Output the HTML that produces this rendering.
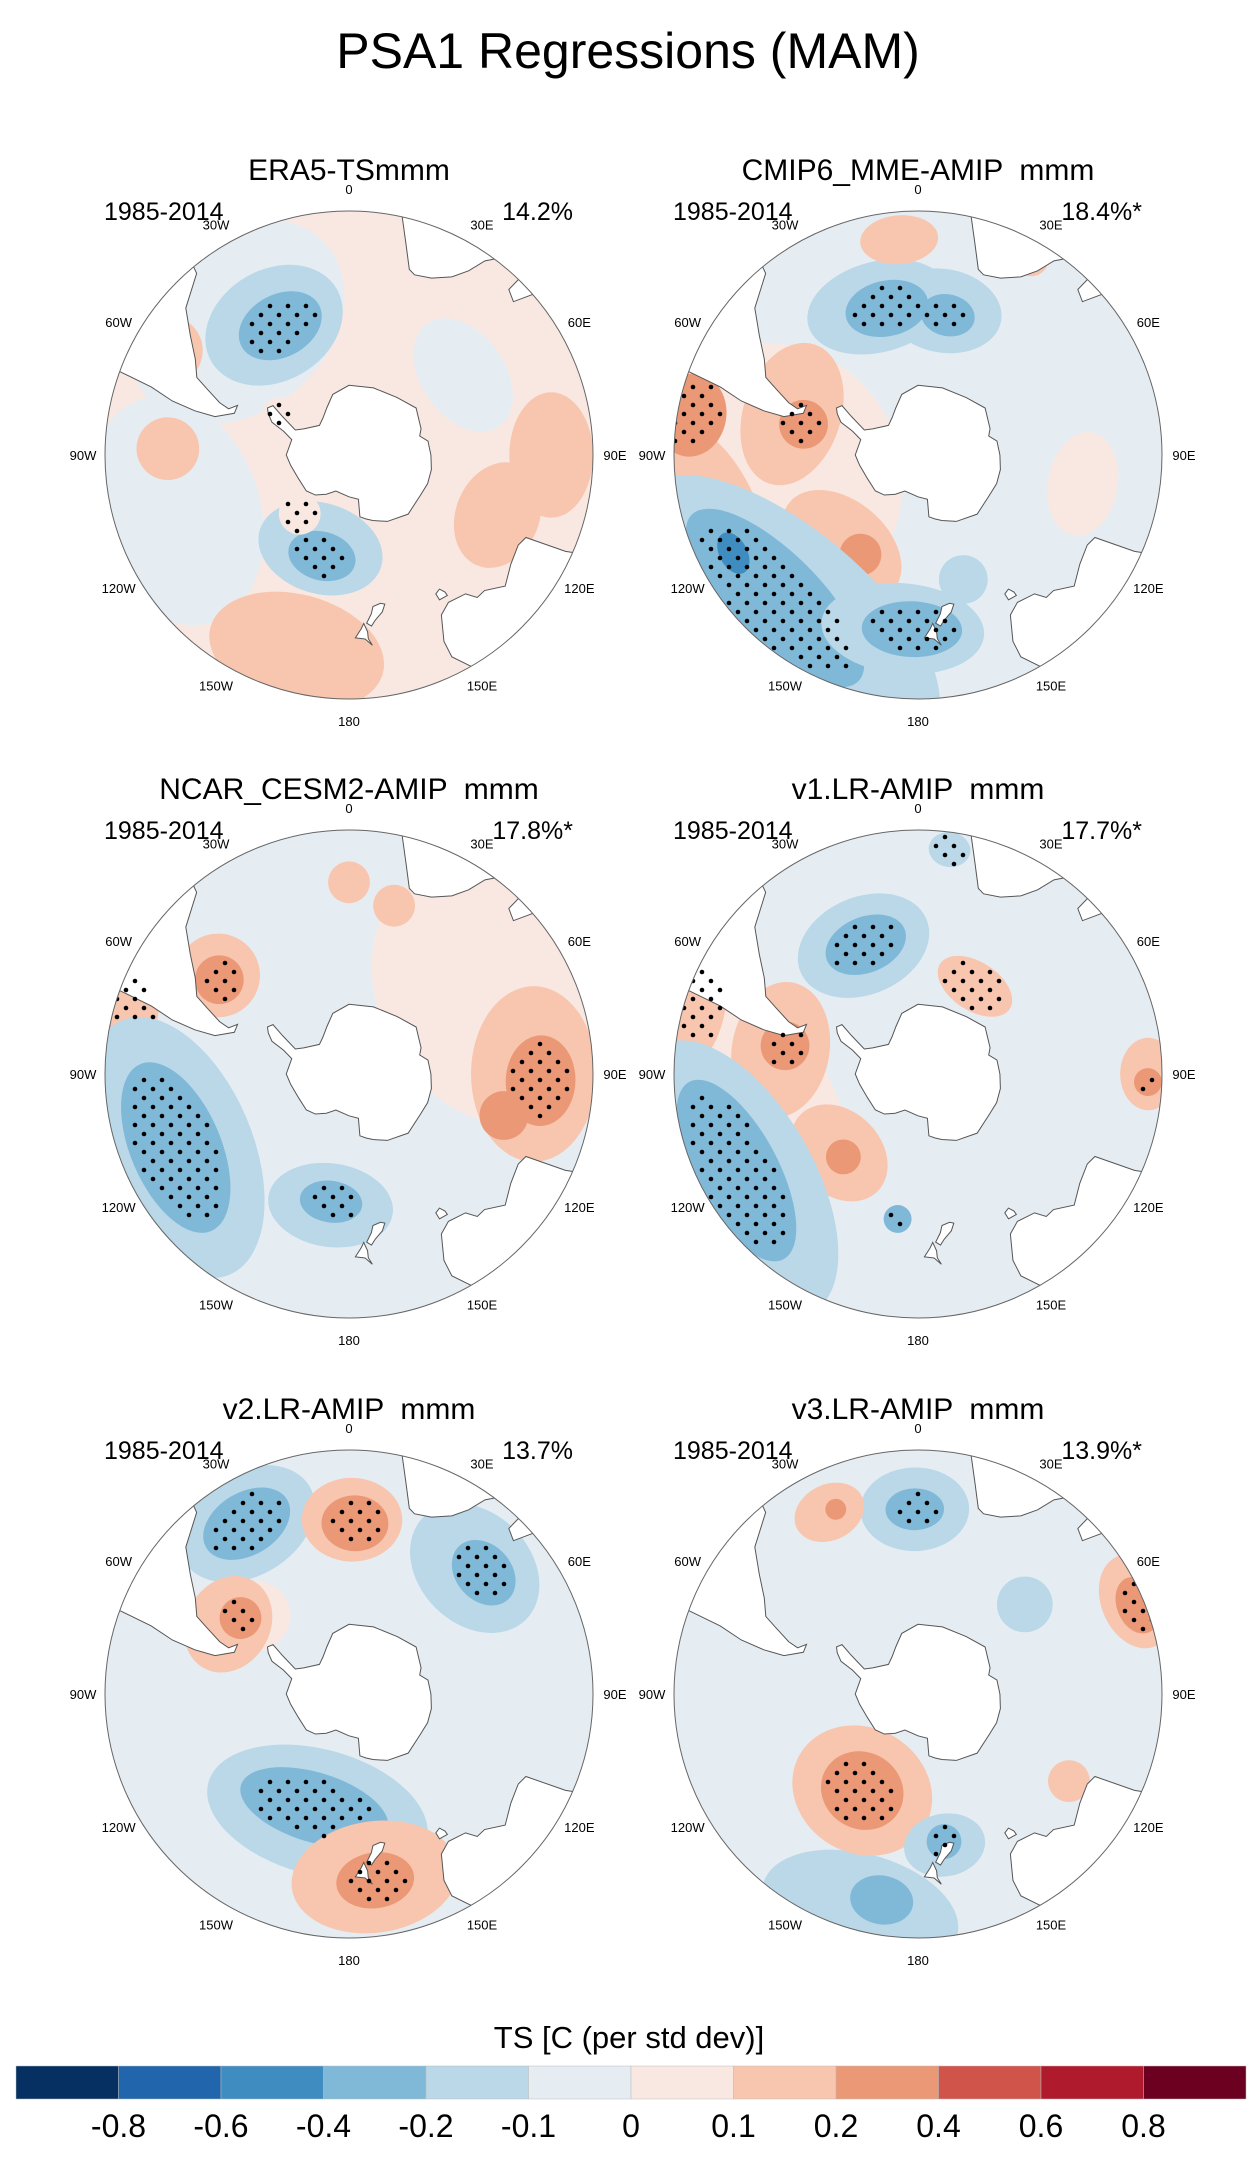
<!DOCTYPE html>
<html><head><meta charset="utf-8"><style>
html,body{margin:0;padding:0;background:#fff;}
body{width:1258px;height:2167px;overflow:hidden;font-family:"Liberation Sans",sans-serif;}
svg text{font-family:"Liberation Sans",sans-serif;white-space:pre;}
</style></head><body>
<svg id="fig" width="1258" height="2167" viewBox="0 0 1258 2167" xmlns="http://www.w3.org/2000/svg">
<text x="628" y="68" font-size="50" text-anchor="middle">PSA1 Regressions (MAM)</text>
<g id="panels"></g>
<g id="cbar"></g>
</svg>
<script>
// ---- colour scale data ----
const levelColors = ["#053061","#2166ac","#3f8cc0","#80b9d8","#bad8e8","#e5edf3","#f9e8e2","#f8c6ae","#eb9877","#d1544a","#af1a2d","#6c0020"];
const tickLabels = ["-0.8","-0.6","-0.4","-0.2","-0.1","0","0.1","0.2","0.4","0.6","0.8"];
const lonLabels = ["0","30E","60E","90E","120E","150E","180","150W","120W","90W","60W","30W"];
const lonTicks = [0,30,60,90,120,150,180,-150,-120,-90,-60,-30];
// panels
const panelTitles = ["ERA5-TSmmm","CMIP6_MME-AMIP  mmm","NCAR_CESM2-AMIP  mmm","v1.LR-AMIP  mmm","v2.LR-AMIP  mmm","v3.LR-AMIP  mmm"];
const panelPct = ["14.2%","18.4%*","17.8%*","17.7%*","13.7%","13.9%*"];
const panelBase = [6,5,5,5,5,5];
// blobs: [lon, lat, radiusDeg, level, stipple, stretch(along-arc)]
const blobs1 = [[-40,-40,26,5,0,1.3],[-108,-38,24,5,0,1.4],[-30,-47,16,4,0,1.3],[-28,-48,9,3,1,1.4],[55,-50,12,5,0,1.5],
 [-88,-38,9,7,0,1],[-60,-30,10,7,0,1],[-165,-32,16,7,0,1.6],[-175,-26,10,7,0,1.2],[90,-32,12,7,0,1.5],[112,-44,12,7,0,1.3],
 [-163,-62,13,4,0,1.4],[-165,-60,7,3,1,1.4],[-140,-68,6,6,1,1],[-60,-67,5,6,1,1]];
const blobs2 = [[-100,-45,40,6,0,1],[-110,-28,14,7,0,2.2],[-80,-24,10,8,1,1.2],[-72,-52,14,7,0,1.5],[-75,-56,7,8,1,1],[-140,-56,13,7,0,1.5],[-150,-57,6,8,0,1],
 [-140,-33,22,4,0,2.4],[-135,-32,13,3,1,2.6],[-118,-30,4,2,0,1.6],[-175,-40,13,4,0,1.8],[-178,-40,8,3,1,1.8],[160,-52,7,4,0,1],
 [-15,-46,13,4,0,1.6],[10,-48,12,4,0,1.4],[-12,-47,8,3,1,1.5],[12,-49,6,3,1,1.3],[100,-42,10,6,0,1.5],[-5,-28,7,7,0,1.6],[30,-25,5,7,0,1]];
const blobs3 = [[60,-45,30,6,0,1.3],[-160,-32,18,5,0,1.8],[-27,-30,14,5,0,1.3],[90,-37,18,7,0,1.4],[92,-35,10,8,1,1.3],[105,-44,7,8,0,1],[-53,-43,12,7,0,1],[-54,-44,7,8,1,1],[-76,-24,9,7,1,1.6],
 [-113,-36,22,4,0,1.8],[-113,-36,13,3,1,2],[-172,-52,12,4,0,1.5],[-172,-53,6,3,1,1.5],[15,-40,6,7,0,1],[0,-35,6,7,0,1]];
const blobs4 = [[-110,-40,26,6,0,1.6],[-160,-30,22,5,0,1.6],[-75,-22,10,7,1,1.8],[-80,-50,14,7,0,1.4],[-78,-51,7,8,1,1],[-135,-58,12,7,0,1.3],[-138,-58,5,8,0,1],
 [-120,-30,22,4,0,2],[-118,-31,12,3,1,2.4],[-23,-50,14,4,0,1.4],[-22,-50,8,3,1,1.5],[33,-60,7,7,1,1.7],
 [90,-24,8,7,0,1.3],[92,-24,4,8,1,1],[-172,-48,4,3,1,1],[8,-25,5,4,1,1.2]];
const blobs5 = [[-79,-32,14,5,0,1.5],[-50,-55,10,6,0,1],[-31,-33,15,4,0,1.4],[-31,-33,9,3,1,1.5],[1,-40,12,7,0,1.2],[2,-41,8,8,1,1.2],[45,-39,16,4,0,1.3],[48,-38,8,3,1,1.3],
 [-165,-55,18,4,0,1.8],[-163,-56,10,3,1,2.2],[172,-37,16,7,0,1.5],[172,-36,8,8,1,1.4],[-60,-50,12,7,0,1.2],[-55,-52,6,8,1,1]];
const blobs6 = [[-40,-55,10,5,0,1],[50,-50,8,4,0,1],[-165,-26,16,4,0,1.8],[-170,-30,7,3,0,1.3],[-150,-58,18,7,0,1.15],[-150,-58,11,8,1,1.1],[-1,-37,12,4,0,1.3],[-1,-37,6,3,1,1.4],[-26,-32,8,7,0,1.3],[-24,-32,3,8,0,1],
 [170,-46,9,4,0,1.3],[170,-47,5,3,1,1],[67,-22,10,7,0,1.4],[68,-22,6,8,1,1.4],[120,-40,6,7,0,1]];
const panelBlobs = [blobs1,blobs2,blobs3,blobs4,blobs5,blobs6];
// land polygons (lon,lat)
const antarctica = [[-60,-63],[-57,-64],[-60,-68],[-65,-73],[-60,-75],[-45,-78],[-35,-77],[-25,-75],[-15,-72],[0,-70],[20,-69.5],[40,-68.5],[55,-66.5],[70,-68],[75,-69],[80,-67],[90,-66.5],[100,-66],[110,-66],[120,-66.5],[135,-66],[150,-68],[160,-70],[165,-71],[170,-72],[168,-77],[180,-78],[-160,-79],[-150,-77],[-140,-75],[-130,-74],[-115,-74],[-100,-73],[-90,-72],[-75,-73],[-70,-70],[-67,-66],[-63,-64]];
const samerica = [[-38,-12],[-40,-22],[-48,-27],[-53,-33],[-58,-38],[-63,-41],[-65,-45],[-68,-50],[-69,-53],[-66,-55],[-70,-55],[-74,-50],[-74,-44],[-73,-37],[-71,-30],[-70,-20],[-80,-12]];
const africa = [[8,-12],[12,-18],[15,-27],[18,-34],[20,-35],[25,-34],[30,-31],[33,-27],[35,-22],[40,-15],[42,-10]];
const madagascar = [[44,-15],[44,-24],[47,-25.5],[50,-16],[49,-12]];
const australia = [[112,-12],[114,-22],[115,-34],[118,-35],[124,-34],[130,-31.5],[135,-35],[138,-35],[140,-38],[146,-39],[150,-37],[153,-30],[153,-25],[150,-20],[146,-12]];
const tasmania = [[145,-40.8],[148,-41],[148,-43],[146,-43.6],[145,-42]];
const nzNorth = [[173,-35],[175,-37],[178,-37.5],[176,-40],[175,-41.5],[174,-39],[174,-37]];
const nzSouth = [[172.5,-40.5],[174,-41.5],[172,-44],[171,-46],[168,-46.5],[166.5,-46],[168,-44],[171,-42]];
const landPolys = [samerica,africa,madagascar,australia,tasmania,nzNorth,nzSouth];

const NS='http://www.w3.org/2000/svg';
const R=244, EDGE=-20;
const centers=[[349,455],[918,455],[349,1074],[918,1074],[349,1694],[918,1694]];
function el(tag,attrs,parent){const e=document.createElementNS(NS,tag);for(const k in attrs)e.setAttribute(k,attrs[k]);if(parent)parent.appendChild(e);return e;}
function proj(c,lon,lat){const rho=R*(90+lat)/(90+EDGE);const a=lon*Math.PI/180;return [c[0]+rho*Math.sin(a),c[1]-rho*Math.cos(a)];}
function inside(px,py,E){const dx=px-E.x,dy=py-E.y;const u=dx*E.c+dy*E.s,v=-dx*E.s+dy*E.c;return (u*u)/(E.a*E.a)+(v*v)/(E.b*E.b)<=1;}
const degPx=R/(90+EDGE);
const panelsG=document.getElementById('panels');
centers.forEach((c,i)=>{
  const g=el('g',{},panelsG);
  
  
  const t=el('text',{x:c[0],y:c[1]-275,'font-size':30,'text-anchor':'middle'},g);t.textContent=panelTitles[i];
  
  
  const y1=el('text',{x:c[0]-245,y:c[1]-235,'font-size':25},g);y1.textContent='1985-2014';
  
  
  const p=el('text',{x:c[0]+224,y:c[1]-235,'font-size':25,'text-anchor':'end'},g);p.textContent=panelPct[i];
  
  
  const cp=el('clipPath',{id:'clip'+i},g);el('circle',{cx:c[0],cy:c[1],r:R},cp);
  const m=el('g',{'clip-path':'url(#clip'+i+')'},g);
  
  
  el('circle',{cx:c[0],cy:c[1],r:R,fill:levelColors[panelBase[i]]},m);
  const ells=[];
  panelBlobs[i].forEach(b=>{
    const [x,y]=proj(c,b[0],b[1]);const rr=b[2]*degPx;
    const ang=b[0];
    const e=el('ellipse',{cx:x,cy:y,rx:rr*b[5],ry:rr,fill:levelColors[b[3]],transform:`rotate(${ang} ${x} ${y})`},m);
    
    
    const th=ang*Math.PI/180;
    ells.push({x:x,y:y,a:rr*b[5],b:rr,c:Math.cos(th),s:Math.sin(th),lvl:b[3],st:b[4]});
  });
  landPolys.forEach(pl=>{
    const pts=pl.map(q=>proj(c,q[0],q[1]).join(',')).join(' ');
    const lp=el('polygon',{points:pts,fill:'#fff',stroke:'#555','stroke-width':1},m);
    
    
  });
  const ap=el('polygon',{points:antarctica.map(q=>proj(c,q[0],q[1]).join(',')).join(' '),fill:'#fff',stroke:'#555','stroke-width':1},m);
  
  
  // stipple
  ells.forEach((E,ei)=>{
    if(!E.st) return;
    const S={x:E.x,y:E.y,a:E.a*0.85,b:E.b*0.85,c:E.c,s:E.s};
    for(let yy=Math.floor((E.y-E.a)/9)*9;yy<=E.y+E.a;yy+=9){
      const off=((yy/9)%2===0)?0:9;
      for(let xx=Math.floor((E.x-E.a)/18)*18+off;xx<=E.x+E.a;xx+=18){
        if(!inside(xx,yy,S)) continue;
        let covered=false;
        for(let k=ei+1;k<ells.length;k++){ if(ells[k].lvl!==E.lvl && inside(xx,yy,ells[k]) && Math.abs(ells[k].lvl-E.lvl)>1){covered=true;break;} }
        if(covered) continue;
        const s=el('circle',{cx:xx,cy:yy,r:2.3,fill:'#000'},m);
        
        
      }
    }
  });
  const bd=el('circle',{cx:c[0],cy:c[1],r:R,fill:'none',stroke:'#666','stroke-width':1},g);
  
  
  lonTicks.forEach((lon,k)=>{
    const a=lon*Math.PI/180;const rr=R+22;
    const lt=el('text',{x:c[0]+rr*Math.sin(a),y:c[1]-rr*Math.cos(a)+5,'font-size':13,'text-anchor':'middle'},g);
    lt.textContent=lonLabels[k];
    
    
  });
});
// colorbar
const cb=document.getElementById('cbar');
const x0=16,x1=1246,cy0=2066,ch=33,w=(x1-x0)/levelColors.length;
const ct=el('text',{x:629,y:2048,'font-size':31,'text-anchor':'middle'},cb);ct.textContent='TS [C (per std dev)]';


levelColors.forEach((col,k)=>{
  const r=el('rect',{x:x0+k*w,y:cy0,width:w,height:ch,fill:col,stroke:'#bbb','stroke-width':0.5},cb);
  
  
});
tickLabels.forEach((lab,k)=>{
  const t=el('text',{x:x0+(k+1)*w,y:2137,'font-size':32,'text-anchor':'middle'},cb);t.textContent=lab;
  
  
});
</script>
</body></html>
